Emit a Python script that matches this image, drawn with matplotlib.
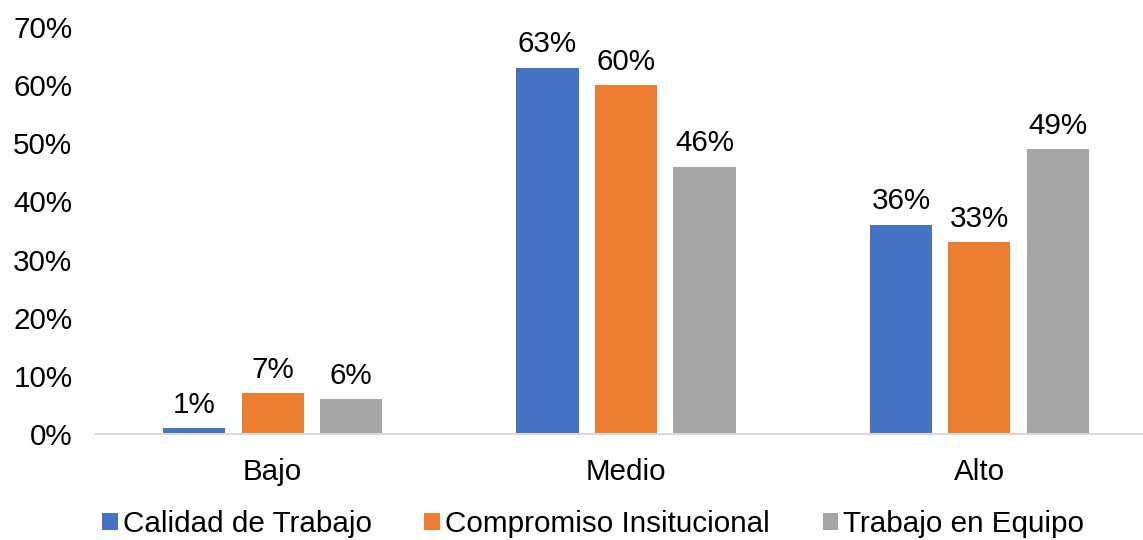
import matplotlib
matplotlib.use("Agg")
import matplotlib.pyplot as plt
import numpy as np
from matplotlib.ticker import PercentFormatter

plt.rcParams['font.family'] = ['Liberation Sans', 'DejaVu Sans']

categories = ["Bajo", "Medio", "Alto"]
series_names = ["Calidad de Trabajo", "Compromiso Insitucional", "Trabajo en Equipo"]
calidad = [1, 63, 36]
compromiso = [7, 60, 33]
equipo = [6, 46, 49]
colors = ["#4472C4", "#ED7D31", "#A5A5A5"]

FS = 21.3

fig = plt.figure(figsize=(11.43, 5.40), dpi=100)
ax = fig.add_axes([96 / 1143, 1 - 434 / 540, (1156 - 96) / 1143, (434 - 27) / 540])

x = np.arange(len(categories))
width = 0.176
offset = 0.222
handles = []
for i, (vals, name, col) in enumerate(zip([calidad, compromiso, equipo], series_names, colors)):
    bars = ax.bar(x + (i - 1) * offset, vals, width, color=col, label=name)
    handles.append(bars)
    for b, v in zip(bars, vals):
        ax.text(b.get_x() + b.get_width() / 2, v + 1.6, f"{v}%", ha="center", va="bottom",
                fontsize=FS, color="#000000")

ax.set_xlim(-0.5, 2.5)
ax.set_ylim(0, 70)
ax.set_yticks(range(0, 71, 10))
ax.yaxis.set_major_formatter(PercentFormatter(decimals=0))
ax.set_xticks(x)
ax.set_xticklabels(categories)
ax.tick_params(axis="both", length=0, labelsize=FS, colors="#000000")
ax.tick_params(axis="x", pad=17)
ax.tick_params(axis="y", pad=17)

for s in ["top", "right", "left"]:
    ax.spines[s].set_visible(False)
ax.spines["bottom"].set_color("#D9D9D9")
ax.spines["bottom"].set_linewidth(1.5)

leg = fig.legend(handles=handles, labels=series_names, loc="center", bbox_to_anchor=(0.519, 1 - 524 / 540),
                 ncol=3, frameon=False, fontsize=FS, handlelength=0.52, handleheight=0.52,
                 handletextpad=0.18, columnspacing=1.78)

fig.savefig("out.png", dpi=100)
